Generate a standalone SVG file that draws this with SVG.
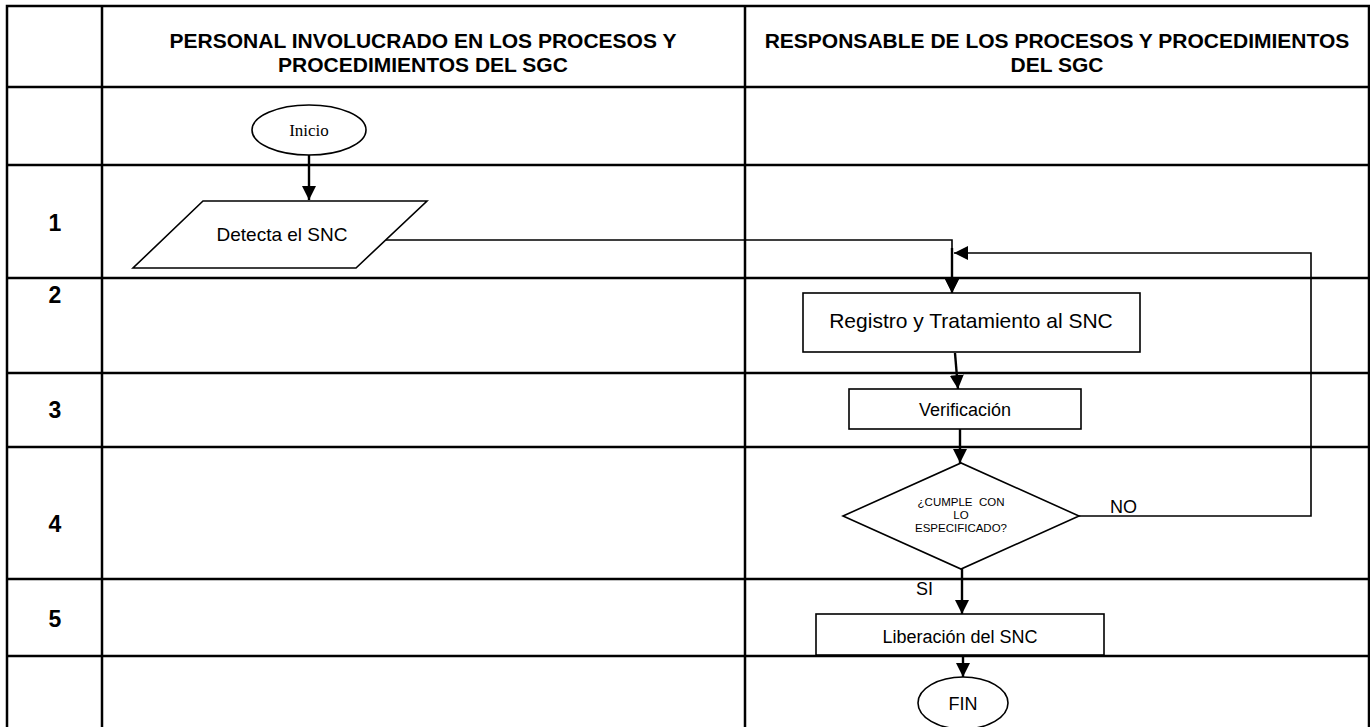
<svg xmlns="http://www.w3.org/2000/svg" width="1370" height="727" viewBox="0 0 1370 727">
<style>
.grid{stroke:#000;stroke-width:2.5;fill:none}
.shape{fill:#fff;stroke:#000;stroke-width:1.6}
.conn{fill:none;stroke:#000;stroke-width:1.6}
.conn2{fill:none;stroke:#000;stroke-width:2.4}
.hdr{font-family:"Liberation Sans",Arial,sans-serif;font-weight:bold;font-size:21px;text-anchor:middle;fill:#000}
.num{font-family:"Liberation Sans",Arial,sans-serif;font-weight:bold;font-size:23px;text-anchor:middle;fill:#000}
.t{font-family:"Liberation Sans",Arial,sans-serif;font-size:18px;text-anchor:middle;fill:#000}
.small{font-family:"Liberation Sans",Arial,sans-serif;font-size:11.5px;text-anchor:middle;fill:#000;white-space:pre}
</style>
<defs>
<marker id="arr" markerUnits="userSpaceOnUse" markerWidth="14" markerHeight="16" refX="14" refY="7" orient="auto">
<path d="M0,0 L14,7 L0,14 Z" fill="#000"/>
</marker>
</defs>
<rect width="1370" height="727" fill="#fff"/>
<g id="table">
<rect class="grid" x="7" y="6" width="1362" height="724"/>
<line class="grid" x1="102" y1="6" x2="102" y2="727"/>
<line class="grid" x1="745" y1="6" x2="745" y2="727"/>
<line class="grid" x1="7" y1="87" x2="1369" y2="87"/>
<line class="grid" x1="7" y1="165" x2="1369" y2="165"/>
<line class="grid" x1="7" y1="278" x2="1369" y2="278"/>
<line class="grid" x1="7" y1="373" x2="1369" y2="373"/>
<line class="grid" x1="7" y1="447" x2="1369" y2="447"/>
<line class="grid" x1="7" y1="579" x2="1369" y2="579"/>
<line class="grid" x1="7" y1="656" x2="1369" y2="656"/>
<text class="hdr" x="423" y="48">PERSONAL INVOLUCRADO EN LOS PROCESOS Y</text>
<text class="hdr" x="423" y="72">PROCEDIMIENTOS DEL SGC</text>
<text class="hdr" x="1057" y="48">RESPONSABLE DE LOS PROCESOS Y PROCEDIMIENTOS</text>
<text class="hdr" x="1057" y="72">DEL SGC</text>
<text class="num" x="55" y="231">1</text>
<text class="num" x="55" y="303">2</text>
<text class="num" x="55" y="418">3</text>
<text class="num" x="55" y="532">4</text>
<text class="num" x="55" y="627">5</text>
</g>
<g id="connectors">
<path class="conn2" d="M309,155 L309,200" marker-end="url(#arr)"/>
<path class="conn" d="M386,240 L952,240 L952,293" marker-end="url(#arr)"/>
<path class="conn2" d="M952,248 L952,293" marker-end="url(#arr)"/>
<path class="conn" d="M1079,516 L1311,516 L1311,253 L954,253" marker-end="url(#arr)"/>
<path class="conn2" d="M955,353 L958,389" marker-end="url(#arr)"/>
<path class="conn2" d="M960,429 L960,463" marker-end="url(#arr)"/>
<path class="conn2" d="M962,569 L962,614" marker-end="url(#arr)"/>
<path class="conn2" d="M963,655 L963,677" marker-end="url(#arr)"/>
<text class="t" x="1110" y="513" style="text-anchor:start">NO</text>
<text class="t" x="916" y="595" style="text-anchor:start">SI</text>
</g>
<g id="inicio">
<ellipse class="shape" cx="309" cy="130" rx="57" ry="25"/>
<text x="309" y="136" style="font-family:'Liberation Serif','Times New Roman',serif;font-size:17px;text-anchor:middle">Inicio</text>
</g>
<g id="detecta">
<polygon class="shape" points="203,201 427,201 356,268 133,268"/>
<text class="t" x="282" y="241" style="font-size:19px">Detecta el SNC</text>
</g>
<g id="registro">
<rect class="shape" x="803" y="293" width="337" height="59"/>
<text class="t" x="971" y="328" style="font-size:21px">Registro y Tratamiento al SNC</text>
</g>
<g id="verificacion">
<rect class="shape" x="849" y="389" width="232" height="40"/>
<text class="t" x="965" y="416">Verificación</text>
</g>
<g id="decision">
<polygon class="shape" points="843,516 961,463 1079,516 961,569"/>
<text class="small" x="961" y="506" xml:space="preserve">¿CUMPLE  CON</text>
<text class="small" x="961" y="519">LO</text>
<text class="small" x="961" y="532">ESPECIFICADO?</text>
</g>
<g id="liberacion">
<rect class="shape" x="816" y="614" width="288" height="41"/>
<text class="t" x="960" y="643">Liberación del SNC</text>
</g>
<g id="fin">
<ellipse class="shape" cx="963" cy="703" rx="45" ry="26"/>
<text class="t" x="963" y="710">FIN</text>
</g>
</svg>
